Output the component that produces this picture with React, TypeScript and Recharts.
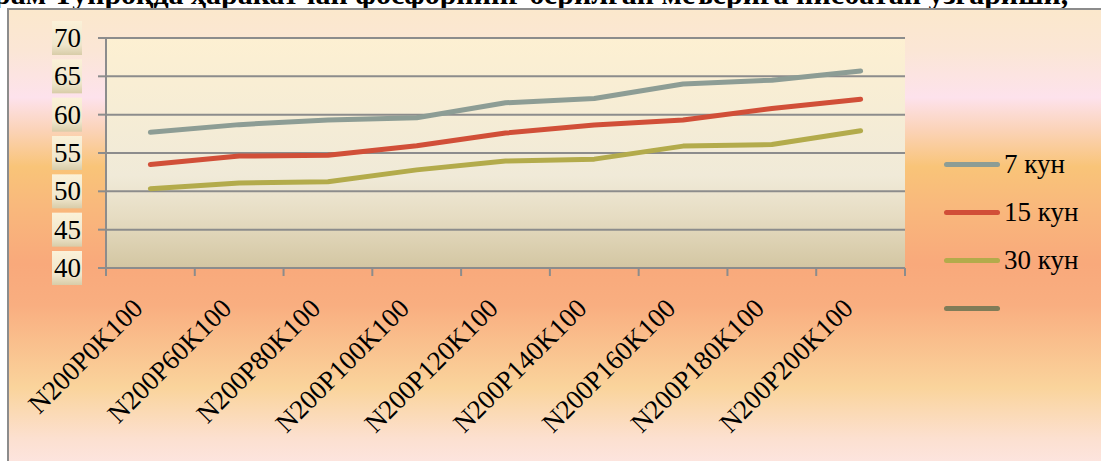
import React from 'react';
import { LineChart, Line, XAxis, YAxis, CartesianGrid, Legend } from 'recharts';

const categories = [
  'N200P0K100',
  'N200P60K100',
  'N200P80K100',
  'N200P100K100',
  'N200P120K100',
  'N200P140K100',
  'N200P160K100',
  'N200P180K100',
  'N200P200K100',
];

const day7 = [57.7, 58.7, 59.3, 59.6, 61.55, 62.1, 64.0, 64.5, 65.7];
const day15 = [53.5, 54.6, 54.7, 55.95, 57.6, 58.65, 59.3, 60.8, 62.0];
const day30 = [50.35, 51.1, 51.25, 52.8, 53.95, 54.2, 55.9, 56.1, 57.9];

const yTicks = [40, 45, 50, 55, 60, 65, 70];

const seriesNames = ['7 кун', '15 кун', '30 кун', ''];
const seriesColors = ['#8d9d95', '#d14f38', '#b3ab4b', '#807c58'];

const title = 'рам Тупроқда ҳаракатчан фосфорнинг берилган меъёрига нисбатан ўзгариши,';

const data = categories.map((name, i) => ({
  name,
  d7: day7[i],
  d15: day15[i],
  d30: day30[i],
}));

const W = 1101;
const H = 461;
const MARGIN = { top: 38, right: 196, left: 0, bottom: 0 };
const Y_AXIS_W = 106;
const PLOT_W = W - MARGIN.left - MARGIN.right - Y_AXIS_W;
const BAND = PLOT_W / categories.length;
const AXIS = '#8c8c8c';
const SERIF = "'Liberation Serif', 'Times New Roman', Times, 'DejaVu Serif', serif";

function YTick({ x, y, payload }: any) {
  return (
    <g>
      <rect x={x - 44} y={y - 17} width={30} height={34} fill="url(#ylabBg)" />
      <text x={x - 15} y={y} dy={9} textAnchor="end" fontSize={27} fill="#000" style={{ fontFamily: SERIF }}>
        {payload.value}
      </text>
    </g>
  );
}

// category label plus the tick marks on the band edges (Excel style)
function XTick({ x, y, payload, index }: any) {
  const ax = x - 6;
  const ay = y + 34;
  const last = index === categories.length - 1;
  return (
    <g>
      <line x1={x - BAND / 2} x2={x - BAND / 2} y1={y - 8} y2={y} stroke={AXIS} strokeWidth={2} />
      {last && <line x1={x + BAND / 2} x2={x + BAND / 2} y1={y - 8} y2={y} stroke={AXIS} strokeWidth={2} />}
      <text
        x={ax}
        y={ay}
        transform={`rotate(-45, ${ax}, ${ay})`}
        textAnchor="end"
        fontSize={27}
        fill="#000"
        style={{ fontFamily: SERIF }}
      >
        {payload.value}
      </text>
    </g>
  );
}

function LegendBox() {
  return (
    <div style={{ fontFamily: SERIF, fontSize: 27, color: '#000' }}>
      {seriesNames.map((n, i) => (
        <div key={i} style={{ display: 'flex', alignItems: 'center', height: 48 }}>
          <div
            style={{
              width: 56,
              height: 5,
              borderRadius: 3,
              background: seriesColors[i],
              marginRight: 4,
            }}
          />
          <span style={{ lineHeight: '30px' }}>{n}</span>
        </div>
      ))}
    </div>
  );
}

export default function App() {
  return (
    <div
      style={{
        position: 'absolute',
        left: 0,
        top: 0,
        width: W,
        height: H,
        overflow: 'hidden',
        background: '#fff',
        fontFamily: SERIF,
      }}
    >
      {/* outer chart frame with its vertical colour wash */}
      <div
        style={{
          position: 'absolute',
          left: 7,
          top: 8,
          width: W,
          height: H,
          borderLeft: `2px solid ${AXIS}`,
          borderTop: `2px solid ${AXIS}`,
          background:
            'linear-gradient(to bottom, #fbe8cc 0%, #fbe6d6 9%, #fde2ec 19%, #fbd3b8 26%, #f9c478 34%, #f9b97c 42%, #f9a97b 55%, #f9ae80 64%, #fad49c 82%, #fce0d0 93%, #fde6e4 100%)',
        }}
      />
      <svg style={{ position: 'absolute', left: 0, top: 0 }} width={W} height={8}>
        <text x={-6} y={4} fontSize={30} fontWeight="bold" fill="#000" style={{ fontFamily: SERIF }}>
          {title}
        </text>
      </svg>
      <div style={{ position: 'absolute', left: 0, top: 0 }}>
        <LineChart width={W} height={H} data={data} margin={MARGIN} style={{ fontFamily: SERIF }}>
          <defs>
            <linearGradient id="plotBg" x1="0" y1="0" x2="0" y2="1">
              <stop offset="0%" stopColor="#fdf0d2" />
              <stop offset="60%" stopColor="#f0ead8" />
              <stop offset="78%" stopColor="#e6dcc2" />
              <stop offset="100%" stopColor="#d3c6a2" />
            </linearGradient>
            <linearGradient id="ylabBg" x1="0" y1="0" x2="0" y2="1">
              <stop offset="0%" stopColor="#fbf1d8" />
              <stop offset="70%" stopColor="#efe6cc" />
              <stop offset="100%" stopColor="#d8cca8" />
            </linearGradient>
          </defs>
          <CartesianGrid vertical={false} stroke={AXIS} strokeWidth={2} fill="url(#plotBg)" fillOpacity={1} />
          <XAxis
            dataKey="name"
            interval={0}
            padding={{ left: BAND / 2, right: BAND / 2 }}
            stroke={AXIS}
            strokeWidth={2}
            tickLine={false}
            tickSize={8}
            tickMargin={0}
            height={H - MARGIN.top - 230}
            tick={<XTick />}
          />
          <YAxis
            type="number"
            domain={[40, 70]}
            ticks={yTicks}
            interval={0}
            width={Y_AXIS_W}
            tickSize={8}
            stroke={AXIS}
            strokeWidth={2}
            tickLine={{ stroke: AXIS, strokeWidth: 2 }}
            tick={<YTick />}
          />
          <Legend
            layout="vertical"
            align="center"
            verticalAlign="middle"
            width={160}
            wrapperStyle={{ left: 944, top: 140 }}
            content={<LegendBox />}
          />
          <Line
            dataKey="d7"
            name={seriesNames[0]}
            stroke={seriesColors[0]}
            strokeWidth={5}
            strokeLinecap="round"
            strokeLinejoin="round"
            dot={false}
            activeDot={false}
            isAnimationActive={false}
          />
          <Line
            dataKey="d15"
            name={seriesNames[1]}
            stroke={seriesColors[1]}
            strokeWidth={5}
            strokeLinecap="round"
            strokeLinejoin="round"
            dot={false}
            activeDot={false}
            isAnimationActive={false}
          />
          <Line
            dataKey="d30"
            name={seriesNames[2]}
            stroke={seriesColors[2]}
            strokeWidth={5}
            strokeLinecap="round"
            strokeLinejoin="round"
            dot={false}
            activeDot={false}
            isAnimationActive={false}
          />
        </LineChart>
      </div>
    </div>
  );
}
